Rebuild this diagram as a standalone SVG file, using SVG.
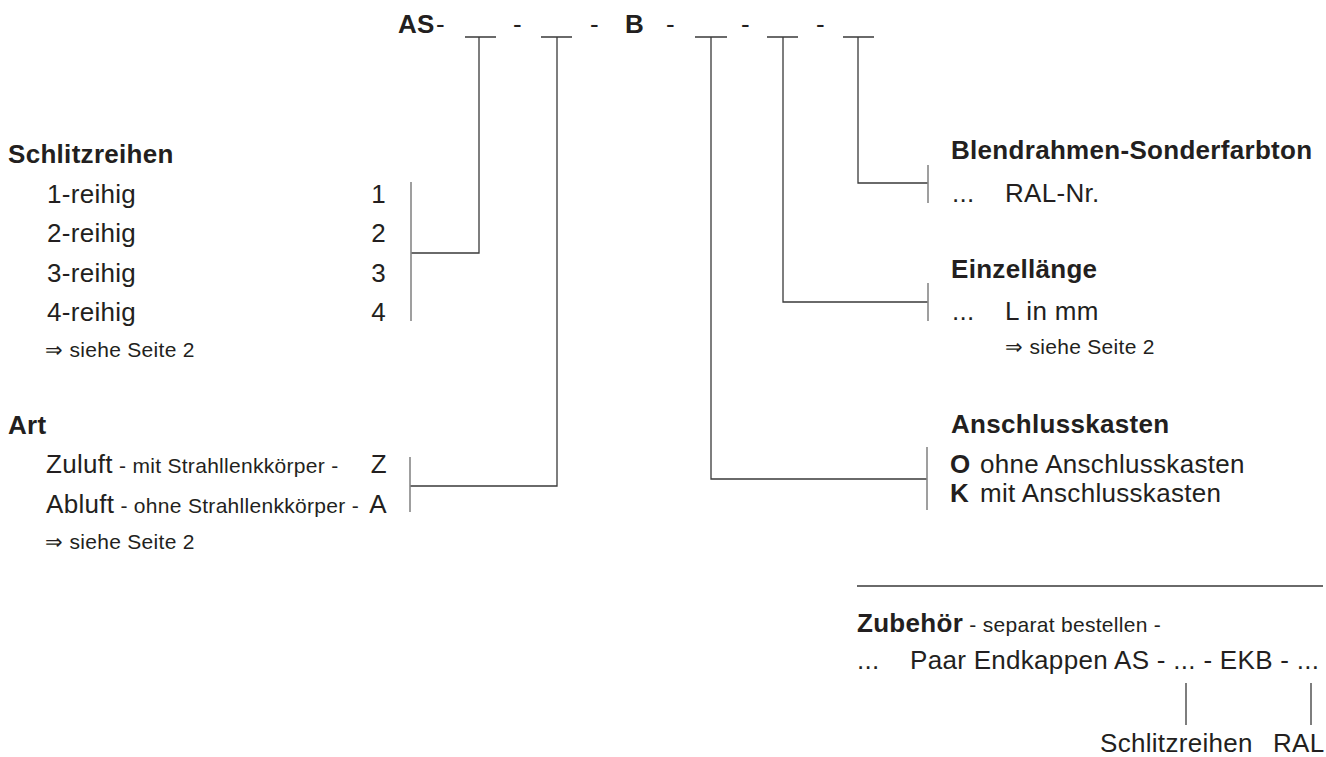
<svg xmlns="http://www.w3.org/2000/svg" width="1326" height="757" viewBox="0 0 1326 757">
<style>
text{font-family:"Liberation Sans",Arial,sans-serif;fill:#231f20;letter-spacing:0.3px}
.r{font-size:26px}
.b{font-size:26px;font-weight:bold}
.s{font-size:21px}
.end{text-anchor:end}
.con{fill:none;stroke:#3a3a3a;stroke-width:1.3}
.brk{fill:none;stroke:#888;stroke-width:1.6}
</style>
<rect width="1326" height="757" fill="#fff"/>
<g id="code">
<text class="b" x="398" y="33">AS</text>
<text class="r" x="436" y="33">-</text>
<text class="r" x="513" y="33">-</text>
<text class="r" x="590" y="33">-</text>
<text class="b" x="625" y="33">B</text>
<text class="r" x="666" y="33">-</text>
<text class="r" x="741" y="33">-</text>
<text class="r" x="816" y="33">-</text>
<path class="con" d="M465,37H496M541,37H572M695,37H727M767,37H798M843,37H874"/>
</g>
<g id="connectors">
<path class="con" d="M479,37V253H411"/>
<path class="con" d="M557,37V486H410"/>
<path class="con" d="M711,37V479H927"/>
<path class="con" d="M783,37V302H928"/>
<path class="con" d="M858,37V183H928"/>
<path class="brk" d="M411,182V321M410,457V512M928,165V203M928,283V321M927,447V510"/>
<path class="con" d="M857,586H1323M1186,683V725M1311,683V725"/>
</g>
<g id="schlitzreihen">
<text class="b" x="8" y="163">Schlitzreihen</text>
<text class="r" x="47" y="203">1-reihig</text>
<text class="r" x="47" y="242">2-reihig</text>
<text class="r" x="47" y="282">3-reihig</text>
<text class="r" x="47" y="321">4-reihig</text>
<text class="r end" x="386" y="203">1</text>
<text class="r end" x="386" y="242">2</text>
<text class="r end" x="386" y="282">3</text>
<text class="r end" x="386" y="321">4</text>
<text class="s" x="45" y="357">⇒ siehe Seite 2</text>
</g>
<g id="art">
<text class="b" x="8" y="434">Art</text>
<text x="46" y="473"><tspan class="r">Zuluft</tspan><tspan class="s"> - mit Strahllenkkörper -</tspan></text>
<text x="46" y="513"><tspan class="r">Abluft</tspan><tspan class="s"> - ohne Strahllenkkörper -</tspan></text>
<text class="r end" x="387" y="473">Z</text>
<text class="r end" x="387" y="513">A</text>
<text class="s" x="45" y="549">⇒ siehe Seite 2</text>
</g>
<g id="blendrahmen">
<text class="b" x="951" y="159">Blendrahmen-Sonderfarbton</text>
<text class="r" x="952" y="202">...</text>
<text class="r" x="1005" y="202">RAL-Nr.</text>
</g>
<g id="einzellaenge">
<text class="b" x="951" y="278">Einzellänge</text>
<text class="r" x="952" y="320">...</text>
<text class="r" x="1005" y="320">L in mm</text>
<text class="s" x="1005" y="354">⇒ siehe Seite 2</text>
</g>
<g id="anschlusskasten">
<text class="b" x="951" y="433">Anschlusskasten</text>
<text class="b" x="950" y="473">O</text>
<text class="r" x="980" y="473">ohne Anschlusskasten</text>
<text class="b" x="950" y="502">K</text>
<text class="r" x="980" y="502">mit Anschlusskasten</text>
</g>
<g id="zubehoer">
<text x="857" y="632"><tspan class="b">Zubehör</tspan><tspan class="s"> - separat bestellen -</tspan></text>
<text class="r" x="857" y="669">...</text>
<text class="r" x="910" y="669">Paar Endkappen AS - ... - EKB - ...</text>
<text class="r" x="1100" y="752">Schlitzreihen</text>
<text class="r" x="1273" y="752">RAL</text>
</g>
</svg>
